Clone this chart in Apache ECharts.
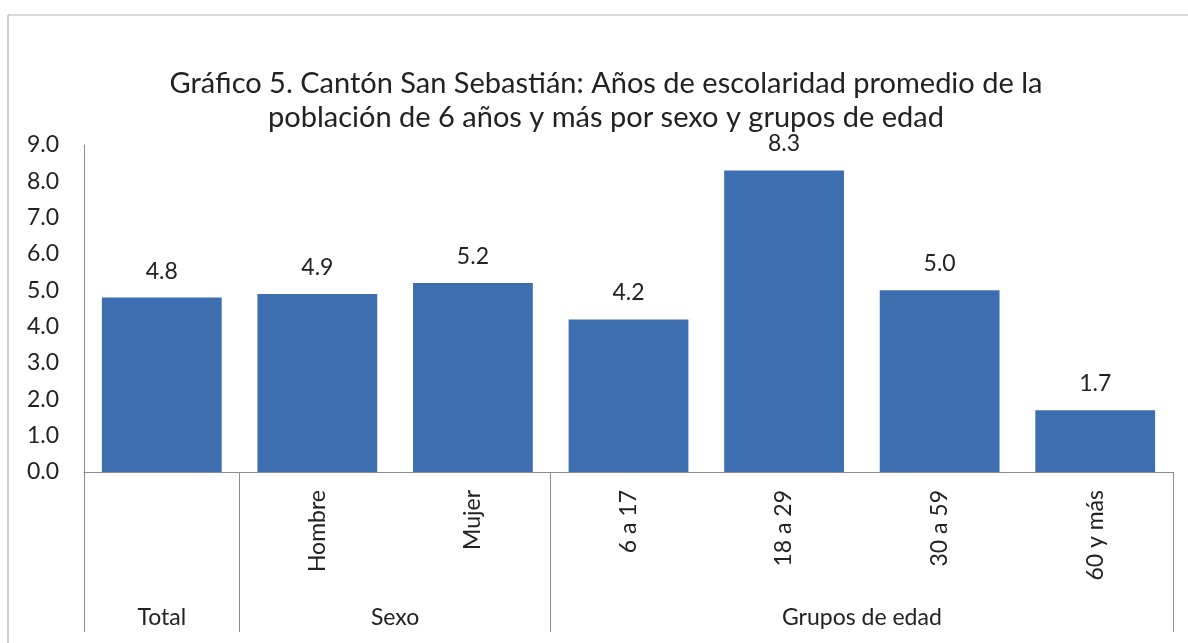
<!DOCTYPE html>
<html>
<head>
<meta charset="utf-8">
<script src="https://cdn.jsdelivr.net/npm/echarts@6/dist/echarts.min.js"></script>
<style>
  html, body { margin: 0; padding: 0; background: #fff; }
  #chart { width: 1188px; height: 643px; }
</style>
</head>
<body>
<div id="chart"></div>
<script>
// datos del gráfico
var categorias = ["", "Hombre", "Mujer", "6 a 17", "18 a 29", "30 a 59", "60 y más"];
var valores = [4.8, 4.9, 5.2, 4.2, 8.3, 5.0, 1.7];
var grupos = ["Total", "Sexo", "Grupos de edad"];
var grupoCentros = [0.5, 2, 5];      // centro de cada grupo (en categorías)
var grupoLimites = [0, 1, 3, 7];     // divisiones entre grupos
var titulo = "Gráfico 5. Cantón San Sebastián: Años de escolaridad promedio de la\npoblación de 6 años y más por sexo y grupos de edad";

var fuente = "Lato, 'Liberation Sans', sans-serif";
var myChart = echarts.init(document.getElementById("chart"));

var option = {
    backgroundColor: "#fff",
    textStyle: { fontFamily: fuente },
    title: {
        text: titulo,
        left: 606,
        top: 67,
        padding: 0,
        textAlign: "center",
        textStyle: {
            fontFamily: fuente,
            fontSize: 29,
            fontWeight: "normal",
            color: "#222",
            lineHeight: 34,
            align: "center"
        }
    },
    graphic: [
        // marco del gráfico
        { type: "line", shape: { x1: 8, y1: 15, x2: 1188, y2: 15 }, style: { stroke: "#b5b5b5", lineWidth: 1 } },
        { type: "line", shape: { x1: 8, y1: 15, x2: 8, y2: 643 }, style: { stroke: "#9a9a9a", lineWidth: 1 } }
    ],
    grid: {
        left: 84,
        right: 15,
        top: 145,
        bottom: 171,
        containLabel: false,
        outerBoundsMode: "none"
    },
    xAxis: [{
            type: "category",
            data: categorias,
            axisLine: { lineStyle: { color: "#8c8c8c", width: 1 } },
            axisTick: { show: false },
            axisLabel: {
                rotate: 90,
                margin: 18,
                align: "right",
                verticalAlign: "middle",
                fontSize: 23,
                color: "#222",
                fontFamily: fuente,
                interval: 0
            }
        },
        {
            type: "value",
            position: "bottom",
            min: 0,
            max: 7,
            axisLine: { show: false },
            splitLine: { show: false },
            axisTick: {
                show: true,
                customValues: grupoLimites,
                length: 160,
                lineStyle: { color: "#8c8c8c", width: 1 }
            },
            axisLabel: {
                customValues: grupoCentros,
                margin: 134,
                fontSize: 23,
                color: "#222",
                fontFamily: fuente,
                formatter: function (v) {
                    var i = grupoCentros.indexOf(v);
                    return i >= 0 ? grupos[i] : "";
                }
            }
        }
    ],
    yAxis: [{
        type: "value",
        min: 0,
        max: 9,
        interval: 1,
        axisLine: { show: true, lineStyle: { color: "#8c8c8c", width: 1 } },
        axisTick: { show: false },
        splitLine: { show: false },
        axisLabel: {
            margin: 25,
            fontSize: 23,
            color: "#222",
            fontFamily: fuente,
            formatter: function (v) { return v.toFixed(1); }
        }
    }],
    series: [{
        type: "bar",
        xAxisIndex: 0,
        data: valores,
        barWidth: "77%",
        itemStyle: { color: "#3d6fb0" },
        label: {
            show: true,
            position: "top",
            distance: 15,
            fontSize: 23,
            color: "#222",
            fontFamily: fuente,
            formatter: function (p) { return p.value.toFixed(1); }
        }
    }]
};

myChart.setOption(option);
window.addEventListener("resize", function () {
    myChart.resize();
});
</script>
</body>
</html>
